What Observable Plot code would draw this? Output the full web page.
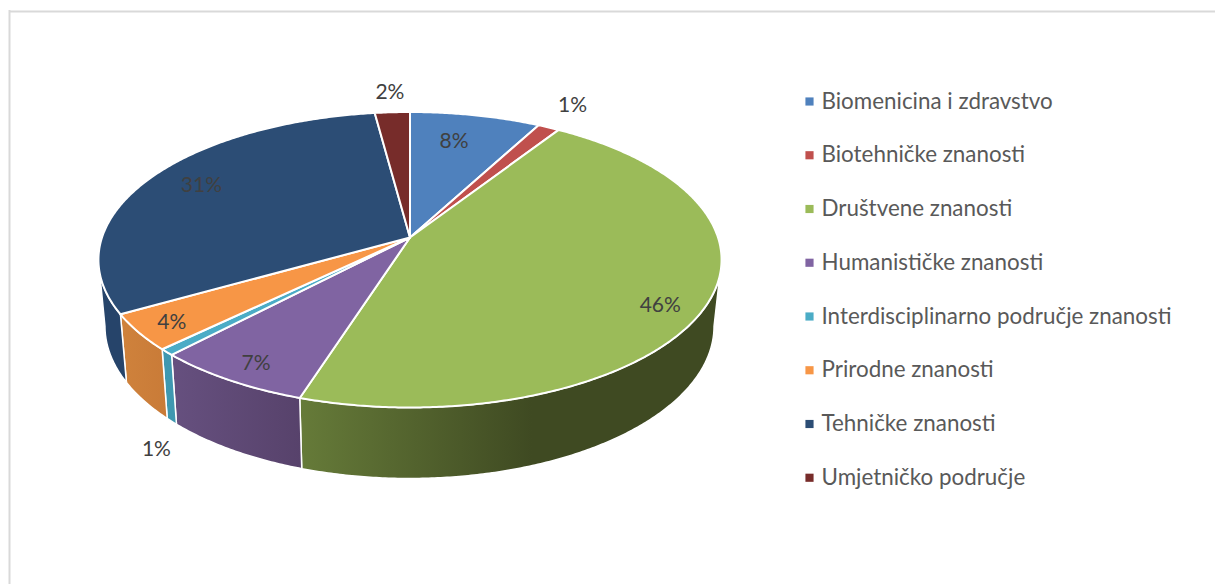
<!DOCTYPE html>
<html>
<head>
<meta charset="utf-8">
<script src="https://cdn.jsdelivr.net/npm/d3@7"></script>
<script src="https://cdn.jsdelivr.net/npm/@observablehq/plot@0.6"></script>
<style>
html,body{margin:0;padding:0;background:#fff;}
svg{display:block;}
</style>
</head>
<body>
<div id="chart"></div>
<script>
// ---- data
const categories = ["Biomenicina i zdravstvo","Biotehničke znanosti","Društvene znanosti","Humanističke znanosti","Interdisciplinarno područje znanosti","Prirodne znanosti","Tehničke znanosti","Umjetničko područje"];
const shares = [7.84, 1.31, 45.81, 7.15, 0.7, 4.0, 31.09, 2.1];
const topColors = ["#4f81bd","#c0504d","#9bbb59","#8064a2","#4bacc6","#f79646","#2c4d75","#772c2a"];
// wall shading: [offset, colour] stops of each slice's rim
const wallStops = [
  [[0,"#3e6190"]],
  [[0,"#8f3b39"]],
  [[0,"#667b39"],[0.55,"#3f4a22"],[1,"#3f4a22"]],
  [[0,"#66507f"],[1,"#57426b"]],
  [[0,"#3f98b0"]],
  [[0,"#cf823c"],[1,"#c97b38"]],
  [[0,"#26446a"]],
  [[0,"#5a2120"]]
];
// where each percentage sits on the disc: clockwise degrees from the top, radius as a fraction of the disc
const labelAngle = [12.1, 29.9, 120.1, 209.8, 209.3, 232.7, 298.1, 356.3];
const labelRadius = [0.759, 1.229, 0.877, 0.889, 1.378, 0.893, 0.812, 1.191];

// ---- projection of the tilted disc
const cx = 409.5, cy = 237, kx = 308.0, ky = 144.4, persp = -0.1506;
function topPoint(deg, r = 1) {
  const a = deg * Math.PI / 180, X = r * Math.sin(a), t = -r * Math.cos(a), d = 1 + persp * t;
  return [cx + kx * X / d, cy + ky * t / d];
}
function bottomPoint(deg) {
  const [x, y] = topPoint(deg);
  return [409 + (x - cx) * 304 / 311, 326 + (y - 259.5) * 152 / 147.5];
}
function arcDegrees(a0, a1) {
  const n = Math.max(2, Math.ceil((a1 - a0) / 0.5)), out = [];
  for (let i = 0; i <= n; i++) out.push(a0 + (a1 - a0) * i / n);
  return out;
}

const total = d3.sum(shares);
const cumulative = d3.cumsum(shares);
const slices = categories.map((name, i) => ({
  name, i,
  a0: (i ? cumulative[i - 1] : 0) / total * 360,
  a1: cumulative[i] / total * 360,
  label: Math.round(shares[i]) + "%"
}));

const topRows = slices.flatMap(s => [
  {name: s.name, p: [cx, cy]},
  ...arcDegrees(s.a0, s.a1).map(a => ({name: s.name, p: topPoint(a)}))
]);

// the wall is visible only between the disc's widest points
const widest = Math.acos(persp) * 180 / Math.PI;   // right silhouette angle
const wallMarks = slices.flatMap(s => {
  const a0 = Math.max(s.a0, widest), a1 = Math.min(s.a1, 360 - widest);
  if (a1 <= a0) return [];
  const arc = arcDegrees(a0, a1);
  const rows = [...arc.map(a => ({p: topPoint(a)})), ...arc.slice().reverse().map(a => ({p: bottomPoint(a)}))];
  return [Plot.line(rows, {
    x: d => d.p[0], y: d => d.p[1], curve: "linear-closed",
    fill: `url(#wall-${s.i})`, stroke: "#fff", strokeWidth: 1.5, strokeLinejoin: "round"
  })];
});

const defsMark = () => {
  const defs = d3.create("svg:defs");
  wallStops.forEach((stops, i) => {
    const g = defs.append("linearGradient").attr("id", `wall-${i}`).attr("x1", 0).attr("x2", 1).attr("y1", 0).attr("y2", 0);
    stops.forEach(([o, c]) => g.append("stop").attr("offset", o).attr("stop-color", c));
  });
  return defs.node();
};

const legendY = i => 101 + i * 53.75;
const fontFamily = "Lato, 'Noto Sans', sans-serif";

const chart = Plot.plot({
  width: 1215, height: 584,
  margin: 0,
  style: {background: "#fff", fontFamily},
  x: {domain: [0, 1215], range: [0, 1215], axis: null},
  y: {domain: [0, 584], range: [0, 584], axis: null},
  color: {domain: categories, range: topColors},
  marks: [
    defsMark,
    Plot.ruleY([11], {x1: 9, x2: 1215, stroke: "#d9d9d9", strokeWidth: 2}),
    Plot.ruleX([9], {y1: 10, y2: 584, stroke: "#d9d9d9", strokeWidth: 2}),
    ...wallMarks,
    Plot.line(topRows, {
      x: d => d.p[0], y: d => d.p[1], z: "name", fill: "name",
      stroke: "#fff", strokeWidth: 2, strokeLinejoin: "round", curve: "linear-closed"
    }),
    Plot.text(slices, {
      x: s => topPoint(labelAngle[s.i], labelRadius[s.i])[0],
      y: s => topPoint(labelAngle[s.i], labelRadius[s.i])[1],
      text: "label", fill: "#404040", fontSize: 21, textAnchor: "middle", lineAnchor: "middle"
    }),
    Plot.dot(slices, {
      x: () => 809, y: s => legendY(s.i), symbol: "square", r: 4.6, fill: "name", stroke: "none"
    }),
    Plot.text(slices, {
      x: () => 821, y: s => legendY(s.i), text: "name", fill: "#595959",
      fontSize: 22.4, textAnchor: "start", lineAnchor: "middle"
    })
  ]
});
document.getElementById("chart").appendChild(chart);
</script>
</body>
</html>
